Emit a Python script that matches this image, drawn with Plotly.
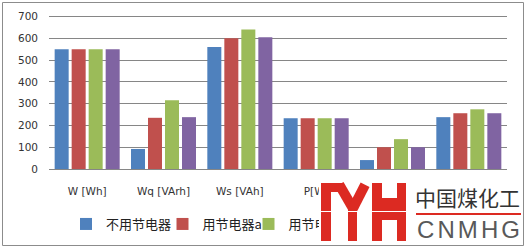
import plotly.graph_objects as go

# ---------------- data ----------------
categories = ["W [Wh]", "Wq [VArh]", "Ws [VAh]", "P[W]", "Q [VAr]", "S [VA]"]
series_names = ["不用节电器", "用节电器a", "用节电器b", "用节电器c"]
no_saver = [550, 92, 560, 233, 41, 238]
saver_a = [550, 235, 600, 233, 100, 256]
saver_b = [550, 316, 640, 233, 137, 274]
saver_c = [550, 238, 605, 233, 100, 256]
series_values = [no_saver, saver_a, saver_b, saver_c]
colors = ["#4F81BD", "#C0504D", "#9BBB59", "#8064A2"]
y_tick_values = [0, 100, 200, 300, 400, 500, 600, 700]
legend_widths = [51.5, 41, 26, 50]

# ---------------- layout geometry ----------------
W, H = 526, 248
L, R, T, B = 49, 19, 10, 79
PW, PH = W - L - R, H - T - B
TOP_INSET = 6.5  # pixels between the plot top and the highest grid line
Y_MAX = y_tick_values[-1] * PH / (PH - TOP_INSET)


def fx(x):
    return (x - L) / PW


def fy(y):
    return (H - B - y) / PH


fig = go.Figure()
for name, vals, col, lw in zip(series_names, series_values, colors, legend_widths):
    fig.add_trace(go.Bar(x=categories, y=vals, name=name, legendwidth=lw,
                         marker=dict(color=col, line=dict(width=0))))

grid_col = "#868686"
tick_font = dict(family="DejaVu Sans", size=10.5, color="#333333")

fig.update_layout(
    width=W, height=H, autosize=False,
    margin=dict(l=L, r=R, t=T, b=B, autoexpand=False),
    paper_bgcolor="white", plot_bgcolor="white",
    barmode="group", bargap=0.109, bargroupgap=0.176,
    showlegend=True,
    legend=dict(orientation="h", x=fx(66), y=fy(224), xanchor="left", yanchor="middle",
                font=dict(family="Noto Sans CJK SC", size=13, color="#222222"),
                bgcolor="rgba(0,0,0,0)", traceorder="normal"),
    xaxis=dict(showgrid=False, showline=True, linecolor=grid_col, linewidth=1,
               ticks="", tickfont=tick_font, ticklabelstandoff=12, zeroline=False),
    yaxis=dict(range=[0, Y_MAX], tickvals=y_tick_values, showgrid=True, gridcolor=grid_col,
               gridwidth=1, zeroline=False, showline=False, ticks="",
               tickfont=tick_font, ticklabelstandoff=10),
)

# top grid line, drawn explicitly in case plotly drops the one nearest the plot edge
top_frac = (PH - TOP_INSET) / PH
fig.add_shape(type="line", xref="paper", yref="paper", x0=0, x1=1, y0=top_frac, y1=top_frac,
              line=dict(color=grid_col, width=1), layer="above")

# chart border
fig.add_shape(type="rect", xref="paper", yref="paper",
              x0=fx(2.5), x1=fx(523.5), y0=fy(245.5), y1=fy(2.5),
              line=dict(color="#8C8C8C", width=1), fillcolor="rgba(0,0,0,0)", layer="above")


# ---------------- watermark logo (drawn with annotation boxes) ----------------
def box(cx, cy, w, h, color, angle=0):
    return dict(xref="paper", yref="paper", x=fx(cx), y=fy(cy), xanchor="center", yanchor="middle",
                text=" ", showarrow=False, width=w, height=h, bgcolor=color, borderpad=0,
                borderwidth=0, textangle=angle, font=dict(size=1))


red = "#DC2A22"
thin = "<span style='font-size:11px'> </span>"
logo_text = ("<span style='font-size:21px;color:#333333'>中国煤化工</span><br>"
             "<span style='font-family:Liberation Sans;font-size:24px;color:#595959'>"
             + thin.join("CNMHG") + "</span>")
anns = [
    dict(xref="paper", yref="paper", x=fx(420.5), y=fy(212.5), xanchor="center", yanchor="middle",
         text=logo_text, showarrow=False, width=199, height=59, borderpad=2, borderwidth=0,
         bgcolor="white", align="right", valign="middle",
         font=dict(family="Noto Sans CJK SC", size=25, color="#333333")),
    box(325.5, 212, 10, 58, red),            # left stem
    box(331.5, 187.25, 22, 8.5, red),        # top bar
    box(345.5, 196.5, 10, 28, red, -30),     # left arm
    box(358.5, 196.5, 10, 27, red, 27),      # right arm
    box(352.5, 224, 9, 34, red),             # middle stem
    box(376.5, 212, 10, 58, red),            # H left stem
    box(389.5, 209, 17, 22, red),            # H cross bar
    box(401.5, 212, 9, 58, red),             # H right stem
    box(363, 211.5, 88, 1, "white"),         # thin white cut
    box(468.5, 213.5, 105, 1.6, red),        # red rule
]
fig.update_layout(annotations=anns)

fig.write_html("out.html")
